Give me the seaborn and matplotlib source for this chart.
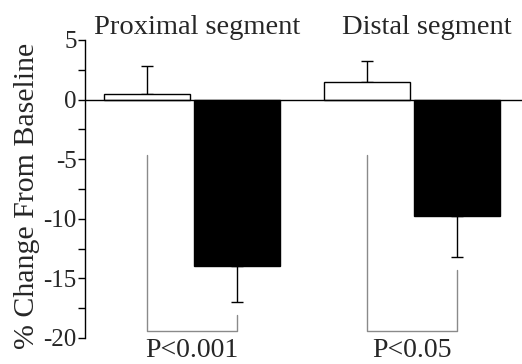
import numpy as np
import pandas as pd
import matplotlib
matplotlib.use("Agg")
import matplotlib.pyplot as plt
from matplotlib.ticker import MultipleLocator
import seaborn as sns

# ---- data ----
segments = ["Proximal segment", "Distal segment"]
conditions = ["Baseline", "Treatment"]
change_baseline = [0.47, 1.45]
change_treatment = [-13.96, -9.74]
sem_baseline = [2.35, 1.79]
sem_treatment = [3.02, 3.44]
p_labels = ["P<0.001", "P<0.05"]
yticks = [5, 0, -5, -10, -15, -20]

df = pd.DataFrame({
    "segment": segments * 2,
    "condition": [conditions[0]] * 2 + [conditions[1]] * 2,
    "change": change_baseline + change_treatment,
})

sns.set_style("ticks")
plt.rcParams["font.family"] = ["Liberation Serif", "DejaVu Serif"]

fig = plt.figure(figsize=(5.22, 3.64), dpi=100)
ax = fig.add_axes([85 / 522, 26 / 364, 437 / 522, 298 / 364])

sns.barplot(data=df, x="segment", y="change", hue="condition",
            order=segments, hue_order=conditions,
            palette=["white", "black"], edgecolor="black", linewidth=1.0,
            width=0.82, gap=0.05, errorbar=None, legend=False, ax=ax,
            zorder=3)

ax.set_ylim(-20, 5)
ax.set_xlim(-0.486, 1.5)

bar_conts = [c for c in ax.containers]
values = [change_baseline, change_treatment]
errs = [sem_baseline, sem_treatment]

# error bars (one-sided, away from zero)
for h, cont in enumerate(bar_conts):
    for i, bar in enumerate(cont):
        xc = bar.get_x() + bar.get_width() / 2
        v = values[h][i]
        e = errs[h][i]
        yerr = [[0], [e]] if v >= 0 else [[e], [0]]
        ax.errorbar([xc], [v], yerr=yerr, fmt="none", ecolor="black",
                    elinewidth=1.0, capsize=4.5, capthick=1.0, zorder=2)

# zero line
ax.axhline(0, color="black", lw=1.0, zorder=4)

# significance brackets
base_cont, trt_cont = bar_conts[0], bar_conts[1]
for i in range(len(segments)):
    b0, b1 = base_cont[i], trt_cont[i]
    x0 = b0.get_x() + b0.get_width() / 2
    x1 = b1.get_x() + b1.get_width() / 2
    y_bottom = -19.4
    y_left_top = -4.65
    y_right_top = change_treatment[i] - sem_treatment[i] - 1.1
    ax.plot([x0, x0, x1, x1], [y_left_top, y_bottom, y_bottom, y_right_top],
            color="#8a8a8a", lw=1.0, zorder=1, clip_on=False)
    ax.text((x0 + x1) / 2, -21.6, p_labels[i], ha="center", va="baseline",
            fontsize=20, clip_on=False)

# segment titles
title_x = [0.023, 1.068]
for i, s in enumerate(segments):
    ax.text(title_x[i], 5.5, s, ha="center", va="baseline", fontsize=20.5,
            clip_on=False)

# axes styling
for sp in ["top", "right", "bottom"]:
    ax.spines[sp].set_visible(False)
ax.spines["left"].set_linewidth(1.0)
ax.spines["left"].set_color("black")
ax.set_yticks(yticks)
ax.set_yticklabels([str(t) for t in yticks])
ax.yaxis.set_minor_locator(MultipleLocator(2.5))
ax.tick_params(axis="y", which="both", direction="out", length=5, width=1.0,
               color="black", labelsize=18, pad=1)
ax.tick_params(axis="x", bottom=False, labelbottom=False)
ax.set_xlabel("")
ax.set_ylabel("% Change From Baseline", fontsize=21.5)
ax.yaxis.set_label_coords(-0.103, 0.477)
ax.set_facecolor("white")
fig.patch.set_facecolor("white")

fig.savefig("out.png", dpi=100, facecolor="white")
